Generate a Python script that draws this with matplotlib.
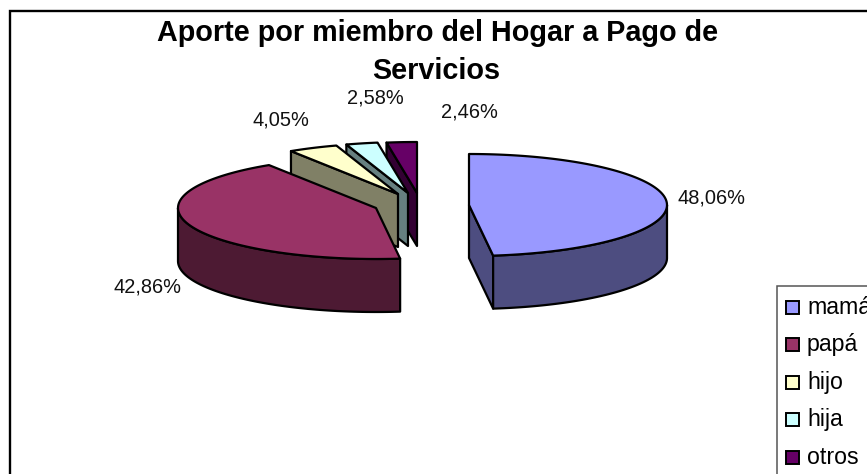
import numpy as np
import matplotlib
matplotlib.use('Agg')
import matplotlib.pyplot as plt
from matplotlib.patches import Polygon, Rectangle

categorias = ['mamá', 'papá', 'hijo', 'hija', 'otros']
valores = [48.06, 42.86, 4.05, 2.58, 2.46]
etiquetas = ['48,06%', '42,86%', '4,05%', '2,58%', '2,46%']

colores = ['#9999FF', '#993366', '#FFFFCC', '#CCFFFF', '#660066']
colores_lado = ['#4D4D80', '#4D1A33', '#808066', '#668080', '#330033']

# geometria del pie en pixeles
a = 198
b = 51
alto = 53
centros = [(469, 205), (376, 208), (398, 194), (408, 193), (417, 193)]
pos_etiquetas = [(711, 198), (147, 287), (281, 120), (375, 98), (469, 112)]
orden = [4, 3, 2, 0, 1]

plt.rcParams['font.family'] = ['Liberation Sans', 'DejaVu Sans']

fig = plt.figure(figsize=(8.67, 4.74), dpi=100)
ax = fig.add_axes([0, 0, 1, 1])
ax.set_xlim(0, 867)
ax.set_ylim(474, 0)
ax.axis('off')

# marco del grafico
ax.add_patch(Rectangle((9.5, 11), 880, 490, fc='white', ec='black', lw=1.7))


def rim(cx, cy, ang):
    t = np.radians(ang)
    return np.column_stack([cx + a * np.sin(t), cy - b * np.cos(t)])


angulos = np.concatenate([[0], np.cumsum(valores)]) * 3.6
angulos = angulos / angulos[-1] * 360

for i in orden:
    cx, cy = centros[i]
    ini, fin = angulos[i], angulos[i + 1]
    c_top = np.array([[cx, cy]])
    c_bot = np.array([[cx, cy + alto]])

    # caras cortadas visibles
    if 180 < ini < 360:
        p = rim(cx, cy, [ini])
        ax.add_patch(Polygon(np.vstack([c_top, p, p + [0, alto], c_bot]), closed=True,
                             fc=colores_lado[i], ec='black', lw=1.6, joinstyle='round'))
    if 0 < fin < 180:
        p = rim(cx, cy, [fin])
        ax.add_patch(Polygon(np.vstack([c_top, p, p + [0, alto], c_bot]), closed=True,
                             fc=colores_lado[i], ec='black', lw=1.6, joinstyle='round'))

    # pared exterior
    w0, w1 = max(ini, 90), min(fin, 270)
    if w1 > w0:
        arco = rim(cx, cy, np.linspace(w0, w1, 80))
        ax.add_patch(Polygon(np.vstack([arco, arco[::-1] + [0, alto]]), closed=True,
                             fc=colores_lado[i], ec='black', lw=1.6, joinstyle='round'))

    # cara superior
    arco = rim(cx, cy, np.linspace(ini, fin, 120))
    ax.add_patch(Polygon(np.vstack([c_top, arco]), closed=True,
                         fc=colores[i], ec='black', lw=1.6, joinstyle='round'))

for txt, (x, y) in zip(etiquetas, pos_etiquetas):
    ax.text(x, y, txt, fontsize=14.4, ha='center', va='center', color='#111111')

ax.text(437.5, 33, 'Aporte por miembro del Hogar a Pago de', fontsize=20.7, fontweight='bold',
        ha='center', va='center')
ax.text(436, 71, 'Servicios', fontsize=20.7, fontweight='bold', ha='center', va='center')

# leyenda cortada por el borde
ax.add_patch(Rectangle((777, 286), 120, 220, fc='white', ec='#555555', lw=1.1))
for i, nombre in enumerate(categorias):
    y = 307 + i * 37.5
    ax.add_patch(Rectangle((786, y - 6.5), 13, 13, fc=colores[i], ec='black', lw=1.4))
    ax.text(807, y, nombre, fontsize=16.7, ha='left', va='center', color='black')

fig.savefig('out.png', dpi=100)
